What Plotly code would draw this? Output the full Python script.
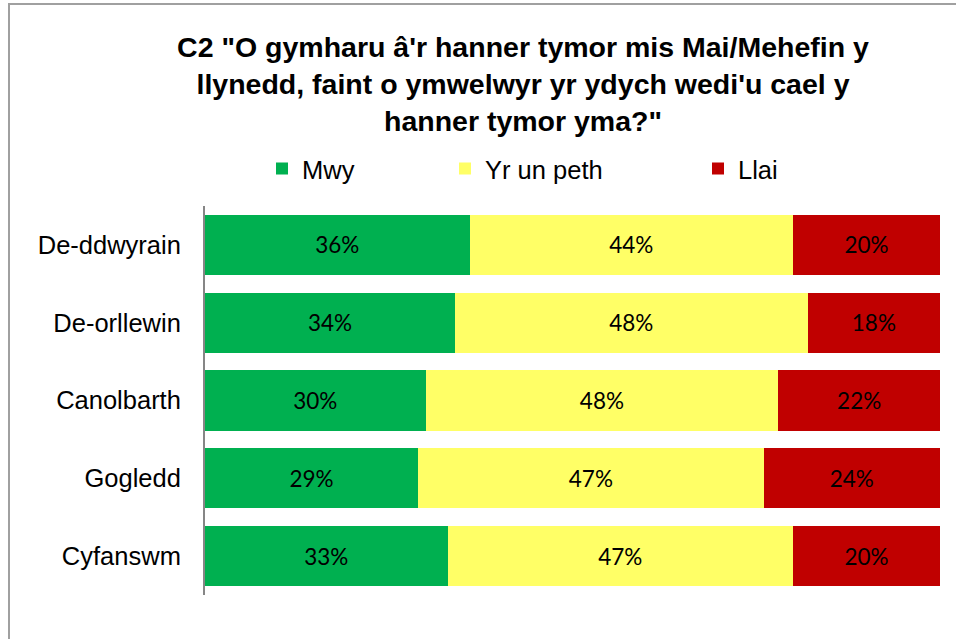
import plotly.graph_objects as go

categories = ["De-ddwyrain", "De-orllewin", "Canolbarth", "Gogledd", "Cyfanswm"]
series_names = ["Mwy", "Yr un peth", "Llai"]
mwy = [36, 34, 30, 29, 33]
yr_un_peth = [44, 48, 48, 47, 47]
llai = [20, 18, 22, 24, 20]
colors = ["#00B050", "#FFFF66", "#C00000"]
title_text = "C2 \"O gymharu â'r hanner tymor mis Mai/Mehefin y<br>llynedd, faint o ymwelwyr yr ydych wedi'u cael y<br>hanner tymor yma?\""

W, H = 956, 639
L, R, T, B = 205, 16, 206, 44

fig = go.Figure()
legend_ids = ["legend", "legend2", "legend3"]
legend_x = [262, 445, 698]
for name, vals, col, lg in zip(series_names, [mwy, yr_un_peth, llai], colors, legend_ids):
    fig.add_trace(go.Bar(
        y=categories, x=vals, name=name, orientation="h",
        marker=dict(color=col, line=dict(width=0)),
        text=[f"{v}%" for v in vals], textposition="inside",
        insidetextanchor="middle", constraintext="none",
        textfont=dict(family="Lato, Open Sans, sans-serif", size=22.5, color="black"),
        legend=lg, hoverinfo="skip",
    ))

legend_common = dict(
    orientation="h", xref="container", yref="container", xanchor="left",
    yanchor="middle", y=1 - 169 / H, bgcolor="rgba(0,0,0,0)",
    font=dict(family="Liberation Sans, Arial, sans-serif", size=25.5, color="black"),
)

pw = W - L - R
ph = H - T - B
def px(x):
    return (x - L) / pw
def py(y):
    return (H - B - y) / ph

fig.update_layout(
    width=W, height=H,
    margin=dict(l=L, r=R, t=T, b=B, pad=0),
    barmode="stack", bargap=0.228,
    paper_bgcolor="white", plot_bgcolor="white",
    title=dict(text=title_text, xref="container", x=523 / W, xanchor="center",
               yref="container", y=1 - 57 / H, yanchor="top",
               font=dict(family="Liberation Sans, Arial, sans-serif", size=28.5, color="black", weight="bold")),
    legend=dict(x=legend_x[0] / W, **legend_common),
    legend2=dict(x=legend_x[1] / W, **legend_common),
    legend3=dict(x=legend_x[2] / W, **legend_common),
    xaxis=dict(range=[0, 100], visible=False, fixedrange=True),
    yaxis=dict(categoryorder="array", categoryarray=categories, autorange="reversed",
               showline=True, linecolor="#868686", linewidth=2, ticks="",
               ticklabelstandoff=17, showgrid=False, fixedrange=True,
               tickfont=dict(family="Liberation Sans, Arial, sans-serif", size=25.5, color="black")),
    shapes=[dict(type="rect", xref="paper", yref="paper",
                 x0=px(9), x1=px(970), y0=py(660), y1=py(4),
                 line=dict(color="#A0A0A0", width=2), fillcolor="rgba(0,0,0,0)", layer="below")],
    showlegend=True,
)

fig.write_html("out.html", config={"displayModeBar": False},
               post_script="document.body.style.margin='0';document.body.style.overflow='hidden';")
